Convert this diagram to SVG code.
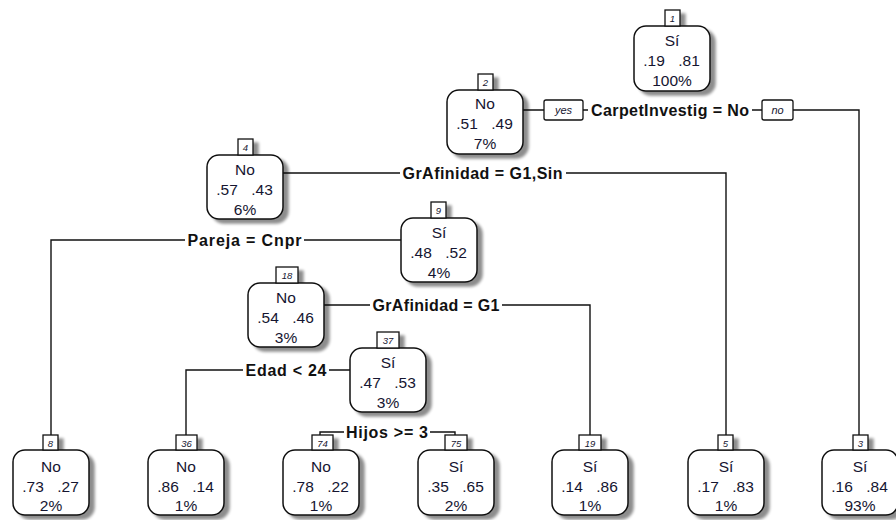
<svg xmlns="http://www.w3.org/2000/svg" width="896" height="520" viewBox="0 0 896 520">
<defs>
<style>
.box{fill:#fff;stroke:#111;stroke-width:1.5}
.tab{fill:#fff;stroke:#111;stroke-width:1.3}
.nt{font-family:"Liberation Sans",Arial,sans-serif;font-size:15.5px;fill:#151530;text-anchor:middle}
.tt{font-family:"Liberation Sans",Arial,sans-serif;font-size:9.5px;font-style:italic;fill:#151530;text-anchor:middle}
.lb{font-family:"Liberation Sans",Arial,sans-serif;font-size:16px;font-weight:bold;fill:#111;text-anchor:middle}
.yn{font-family:"Liberation Sans",Arial,sans-serif;font-size:11px;font-style:italic;fill:#151530;text-anchor:middle}
.ln{fill:none;stroke:#111;stroke-width:1.4}
.ynb{fill:#fff;stroke:#111;stroke-width:1.3}
</style>
<filter id="sh" x="-20%" y="-30%" width="150%" height="160%">
<feGaussianBlur in="SourceAlpha" stdDeviation="1.8"/>
<feOffset dx="5" dy="4" result="o"/>
<feComponentTransfer><feFuncA type="linear" slope="0.45"/></feComponentTransfer>
<feMerge><feMergeNode/><feMergeNode in="SourceGraphic"/></feMerge>
</filter>
</defs>
<rect width="896" height="520" fill="#fff"/>

<g id="connectors">
<path class="ln" d="M523,110 H544 M583,110 H588 M752,110 H762 M793,110 H859 V435"/>
<rect class="ynb" x="544" y="100" width="39" height="20" rx="2"/>
<text class="yn" x="563.5" y="114">yes</text>
<rect class="ynb" x="762" y="100" width="31" height="20" rx="2"/>
<text class="yn" x="777.5" y="114">no</text>
<text class="lb" x="670" y="115.5" textLength="158" lengthAdjust="spacing">CarpetInvestig = No</text>

<path class="ln" d="M283,173 H400 M566,173 H726 V435"/>
<text class="lb" x="482.5" y="178.5" textLength="160" lengthAdjust="spacing">GrAfinidad = G1,Sin</text>

<path class="ln" d="M401,240 H304 M185,240 H51 V435"/>
<text class="lb" x="244.5" y="245.5" textLength="114" lengthAdjust="spacing">Pareja = Cnpr</text>

<path class="ln" d="M324,305 H370 M502,305 H590 V435"/>
<text class="lb" x="436" y="310.5" textLength="127" lengthAdjust="spacing">GrAfinidad = G1</text>

<path class="ln" d="M350,370 H329 M243,370 H186 V435"/>
<text class="lb" x="286" y="375.5" textLength="81" lengthAdjust="spacing">Edad &lt; 24</text>

<path class="ln" d="M320,435 V432 H344 M430,432 H455 V435"/>
<text class="lb" x="387" y="437.5" textLength="82" lengthAdjust="spacing">Hijos &gt;= 3</text>
</g>

<g id="n1" transform="translate(634,26)">
<g filter="url(#sh)"><rect class="box" width="76" height="65" rx="12"/><rect class="tab" x="31" y="-16" width="15" height="16"/></g>
<text class="tt" x="38.5" y="-4">1</text>
<text class="nt" x="38" y="19.5">Sí</text>
<text class="nt" x="20" y="39.5">.19</text><text class="nt" x="55" y="39.5">.81</text>
<text class="nt" x="38" y="59.5">100%</text>
</g>

<g id="n2" transform="translate(447,90)">
<g filter="url(#sh)"><rect class="box" width="76" height="64" rx="12"/><rect class="tab" x="31" y="-16" width="15" height="16"/></g>
<text class="tt" x="38.5" y="-4">2</text>
<text class="nt" x="38" y="19">No</text>
<text class="nt" x="20" y="38.5">.51</text><text class="nt" x="55" y="38.5">.49</text>
<text class="nt" x="38" y="58.5">7%</text>
</g>

<g id="n4" transform="translate(207,155)">
<g filter="url(#sh)"><rect class="box" width="76" height="64" rx="12"/><rect class="tab" x="31" y="-16" width="15" height="16"/></g>
<text class="tt" x="38.5" y="-4">4</text>
<text class="nt" x="38" y="19.5">No</text>
<text class="nt" x="20" y="39.5">.57</text><text class="nt" x="55" y="39.5">.43</text>
<text class="nt" x="38" y="59.5">6%</text>
</g>

<g id="n9" transform="translate(401,218)">
<g filter="url(#sh)"><rect class="box" width="76" height="64" rx="12"/><rect class="tab" x="30" y="-16" width="15" height="16"/></g>
<text class="tt" x="37.5" y="-4">9</text>
<text class="nt" x="38" y="19.5">Sí</text>
<text class="nt" x="20" y="39.5">.48</text><text class="nt" x="55" y="39.5">.52</text>
<text class="nt" x="38" y="59.5">4%</text>
</g>

<g id="n18" transform="translate(248,283)">
<g filter="url(#sh)"><rect class="box" width="76" height="64" rx="12"/><rect class="tab" x="28" y="-16" width="22" height="16"/></g>
<text class="tt" x="39" y="-4">18</text>
<text class="nt" x="38" y="19.5">No</text>
<text class="nt" x="20" y="39.5">.54</text><text class="nt" x="55" y="39.5">.46</text>
<text class="nt" x="38" y="59.5">3%</text>
</g>

<g id="n37" transform="translate(350,348)">
<g filter="url(#sh)"><rect class="box" width="76" height="64" rx="12"/><rect class="tab" x="27" y="-16" width="22" height="16"/></g>
<text class="tt" x="38" y="-4">37</text>
<text class="nt" x="38" y="19.5">Sí</text>
<text class="nt" x="20" y="39.5">.47</text><text class="nt" x="55" y="39.5">.53</text>
<text class="nt" x="38" y="59.5">3%</text>
</g>

<g id="n8" transform="translate(13,450)">
<g filter="url(#sh)"><rect class="box" width="76" height="65" rx="12"/><rect class="tab" x="30" y="-15" width="15" height="15"/></g>
<text class="tt" x="37.5" y="-3.5">8</text>
<text class="nt" x="38" y="22">No</text>
<text class="nt" x="20" y="41.5">.73</text><text class="nt" x="55" y="41.5">.27</text>
<text class="nt" x="38" y="61">2%</text>
</g>

<g id="n36" transform="translate(148,450)">
<g filter="url(#sh)"><rect class="box" width="76" height="65" rx="12"/><rect class="tab" x="28" y="-15" width="21" height="15"/></g>
<text class="tt" x="38.5" y="-3.5">36</text>
<text class="nt" x="38" y="22">No</text>
<text class="nt" x="20" y="41.5">.86</text><text class="nt" x="55" y="41.5">.14</text>
<text class="nt" x="38" y="61">1%</text>
</g>

<g id="n74" transform="translate(283,450)">
<g filter="url(#sh)"><rect class="box" width="76" height="65" rx="12"/><rect class="tab" x="29" y="-15" width="21" height="15"/></g>
<text class="tt" x="39.5" y="-3.5">74</text>
<text class="nt" x="38" y="22">No</text>
<text class="nt" x="20" y="41.5">.78</text><text class="nt" x="55" y="41.5">.22</text>
<text class="nt" x="38" y="61">1%</text>
</g>

<g id="n75" transform="translate(418,450)">
<g filter="url(#sh)"><rect class="box" width="76" height="65" rx="12"/><rect class="tab" x="27" y="-15" width="22" height="15"/></g>
<text class="tt" x="38" y="-3.5">75</text>
<text class="nt" x="38" y="22">Sí</text>
<text class="nt" x="20" y="41.5">.35</text><text class="nt" x="55" y="41.5">.65</text>
<text class="nt" x="38" y="61">2%</text>
</g>

<g id="n19" transform="translate(552,450)">
<g filter="url(#sh)"><rect class="box" width="76" height="65" rx="12"/><rect class="tab" x="27" y="-15" width="22" height="15"/></g>
<text class="tt" x="38" y="-3.5">19</text>
<text class="nt" x="38" y="22">Sí</text>
<text class="nt" x="20" y="41.5">.14</text><text class="nt" x="55" y="41.5">.86</text>
<text class="nt" x="38" y="61">1%</text>
</g>

<g id="n5" transform="translate(688,450)">
<g filter="url(#sh)"><rect class="box" width="76" height="65" rx="12"/><rect class="tab" x="30" y="-15" width="15" height="15"/></g>
<text class="tt" x="37.5" y="-3.5">5</text>
<text class="nt" x="38" y="22">Sí</text>
<text class="nt" x="20" y="41.5">.17</text><text class="nt" x="55" y="41.5">.83</text>
<text class="nt" x="38" y="61">1%</text>
</g>

<g id="n3" transform="translate(822,450)">
<g filter="url(#sh)"><rect class="box" width="76" height="65" rx="12"/><rect class="tab" x="31" y="-15" width="15" height="15"/></g>
<text class="tt" x="38.5" y="-3.5">3</text>
<text class="nt" x="38" y="22">Sí</text>
<text class="nt" x="20" y="41.5">.16</text><text class="nt" x="55" y="41.5">.84</text>
<text class="nt" x="38" y="61">93%</text>
</g>
</svg>
